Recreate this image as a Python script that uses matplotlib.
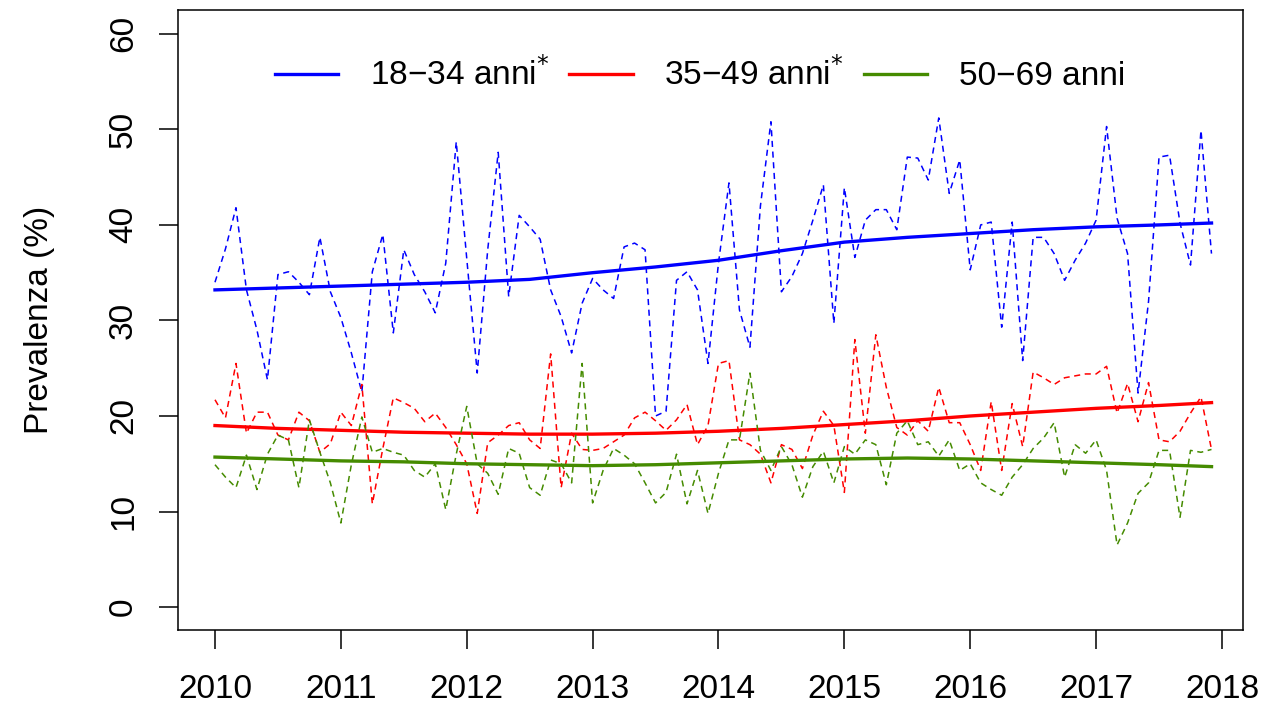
import matplotlib
matplotlib.use('Agg')
import matplotlib.pyplot as plt
import numpy as np

plt.rcParams['font.family'] = ['Liberation Sans', 'DejaVu Sans']

# monthly prevalence, Jan 2010 - Dec 2017
months = 2010 + np.arange(96) / 12.0

prev_18_34 = [34.0, 37.5, 41.8, 33.2, 29.0, 23.8, 34.8, 35.1, 34.0, 32.7, 38.7, 33.0,
              30.3, 26.6, 22.5, 35.1, 39.0, 28.7, 37.4, 34.8, 33.0, 30.8, 36.0, 48.7,
              36.5, 24.5, 37.4, 47.6, 32.5, 41.0, 39.8, 38.5, 33.2, 30.4, 26.6, 31.8,
              34.4, 33.2, 32.3, 37.7, 38.1, 37.4, 20.0, 20.5, 34.2, 35.1, 33.2, 25.5,
              36.0, 44.4, 31.1, 27.2, 42.0, 50.8, 33.0, 34.6, 37.0, 40.5, 44.2, 29.7,
              43.9, 36.6, 40.5, 41.6, 41.6, 39.5, 47.1, 47.0, 44.7, 51.2, 43.3, 46.8,
              35.3, 40.0, 40.3, 29.3, 40.3, 25.8, 38.7, 38.7, 37.0, 34.2, 36.3, 38.1,
              40.5, 50.3, 40.7, 37.0, 22.4, 32.0, 47.1, 47.3, 40.2, 35.8, 49.9, 37.0]

prev_35_49 = [21.7, 19.8, 25.5, 18.2, 20.4, 20.4, 18.0, 17.5, 20.4, 19.5, 16.2, 17.1,
              20.4, 19.0, 23.3, 10.8, 16.6, 21.9, 21.4, 20.8, 19.4, 20.3, 18.8, 17.0,
              15.0, 9.8, 17.2, 18.0, 19.0, 19.3, 17.5, 16.6, 26.5, 12.5, 18.2, 16.5,
              16.4, 16.6, 17.3, 18.0, 19.8, 20.4, 19.5, 18.5, 19.6, 21.2, 17.0, 19.0,
              25.5, 25.8, 17.5, 17.0, 16.0, 13.0, 17.0, 16.5, 14.5, 18.0, 20.5, 19.0,
              12.0, 28.0, 18.2, 28.5, 23.0, 18.8, 18.0, 19.5, 18.4, 23.0, 19.3, 19.3,
              17.0, 14.3, 21.5, 14.3, 21.3, 16.8, 24.6, 24.0, 23.3, 24.0, 24.2, 24.4,
              24.4, 25.2, 20.3, 23.4, 19.4, 23.5, 17.5, 17.3, 18.4, 20.3, 22.0, 16.5]

prev_50_69 = [14.9, 13.6, 12.5, 15.9, 12.3, 16.0, 18.0, 17.5, 12.5, 19.6, 16.2, 13.0,
              8.8, 14.9, 19.9, 16.2, 16.6, 16.2, 15.9, 14.3, 13.6, 15.0, 10.2, 16.0,
              21.0, 15.0, 14.0, 11.8, 16.6, 16.1, 12.5, 11.7, 15.4, 15.0, 13.0, 25.5,
              10.9, 14.3, 16.6, 15.9, 15.0, 13.0, 10.9, 12.0, 16.0, 10.8, 14.3, 9.8,
              14.0, 17.5, 17.5, 24.5, 16.4, 14.3, 16.8, 14.9, 11.5, 14.7, 16.3, 13.0,
              16.8, 16.0, 17.5, 17.0, 12.8, 18.2, 19.5, 17.0, 17.3, 15.8, 17.5, 14.3,
              15.0, 13.0, 12.3, 11.7, 13.6, 14.9, 16.6, 17.7, 19.3, 13.6, 17.0, 16.1,
              17.5, 14.3, 6.5, 8.8, 11.9, 13.0, 16.4, 16.4, 9.4, 16.4, 16.2, 16.5]

# smoothed trends, read every half year
trend_x = [2010, 2010.5, 2011, 2011.5, 2012, 2012.5, 2013, 2013.5, 2014, 2014.5,
           2015, 2015.5, 2016, 2016.5, 2017, 2017.5, 2017.917]
trend_18_34 = [33.2, 33.4, 33.6, 33.8, 34.0, 34.3, 35.0, 35.6, 36.3, 37.3,
               38.2, 38.7, 39.1, 39.5, 39.8, 40.0, 40.2]
trend_35_49 = [19.0, 18.7, 18.5, 18.3, 18.2, 18.1, 18.1, 18.2, 18.4, 18.7,
               19.1, 19.5, 20.0, 20.4, 20.8, 21.1, 21.4]
trend_50_69 = [15.7, 15.5, 15.3, 15.2, 15.0, 14.9, 14.8, 14.9, 15.1, 15.3,
               15.5, 15.6, 15.5, 15.3, 15.1, 14.9, 14.7]

labels = ['18\u221234 anni$^{*}$', '35\u221249 anni$^{*}$', '50\u221269 anni']
colors = ['#0000ff', '#ff0000', '#458b00']

fig = plt.figure(figsize=(12.65, 7.08), dpi=100)
ax = fig.add_axes([0.1407, 0.1102, 0.8419, 0.8757])

series = [prev_18_34, prev_35_49, prev_50_69]
trends = [trend_18_34, trend_35_49, trend_50_69]
for s, t, c, lab in zip(series, trends, colors, labels):
    ax.plot(months, s, color=c, lw=1.1, dashes=(4, 3))
    ax.plot(trend_x, t, color=c, lw=2.4, label=lab)

ax.set_xlim(2009.706, 2018.167)
ax.set_ylim(-2.4, 62.5)
ax.set_xticks(range(2010, 2019))
ax.set_yticks(range(0, 61, 10))
ax.tick_params(axis='both', direction='out', length=14, width=1.1, labelsize=24)
ax.tick_params(axis='x', pad=18)
ax.tick_params(axis='y', pad=14)
for lab in ax.get_yticklabels():
    lab.set_rotation(90)
    lab.set_va('center')
for sp in ax.spines.values():
    sp.set_linewidth(1.1)
ax.set_ylabel('Prevalenza (%)', fontsize=24, labelpad=38)

ax.legend(loc='center', ncol=3, frameon=False, fontsize=24,
          handlelength=1.9, columnspacing=0.6, handletextpad=0.95,
          bbox_to_anchor=(0.49, 0.895))

fig.savefig('out.png', dpi=100)
